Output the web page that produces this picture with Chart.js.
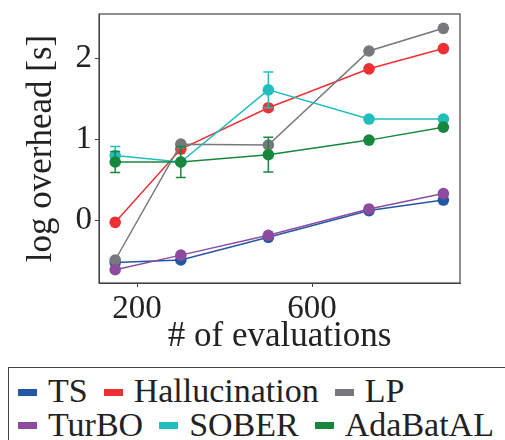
<!DOCTYPE html>
<html>
<head>
<meta charset="utf-8">
<script src="https://cdn.jsdelivr.net/npm/chart.js@4/dist/chart.umd.min.js"></script>
<style>
  body { margin: 0; width: 505px; height: 440px; overflow: hidden; background: #fff; position: relative; }
  #wrap { position: absolute; left: 0; top: 0; width: 505px; height: 360px; }
  #legend {
    position: absolute; left: 8px; top: 367px; width: 540px; height: 100px;
    border: 1.5px solid #444; box-sizing: border-box;
    font-family: 'Liberation Serif', serif; font-size: 34px; color: #222;
    padding: 6px 0 0 9px;
  }
  .row { display: flex; align-items: center; height: 33.5px; line-height: 33.5px; white-space: nowrap; }
  .item { display: flex; align-items: center; margin-right: 16px; }
  .mark { width: 19px; height: 7px; margin-right: 11px; position: relative; top: 1.5px; }
</style>
</head>
<body>
<div id="wrap"><canvas id="chart"></canvas></div>
<div id="legend"></div>
<script>
// data
const evals = [150, 300, 500, 730, 900];
const seriesNames = ['TS', 'Hallucination', 'LP', 'TurBO', 'SOBER', 'AdaBatAL'];
const tsVals = [-0.52, -0.49, -0.21, 0.12, 0.25];
const hallVals = [-0.025, 0.88, 1.39, 1.87, 2.12];
const lpVals = [-0.49, 0.94, 0.93, 2.09, 2.37];
const turboVals = [-0.61, -0.43, -0.185, 0.14, 0.33];
const soberVals = [0.80, 0.72, 1.61, 1.25, 1.25];
const adaVals = [0.72, 0.72, 0.81, 0.99, 1.15];
// half widths of the error bars
const soberErr = [0.11, 0, 0.22, 0, 0];
const adaErr = [0.13, 0.19, 0.215, 0, 0];
const xTicks = [200, 600];
const yTicks = [0, 1, 2];

const colors = ['#2157a6', '#ee3035', '#76787c', '#8d4b9e', '#22bdbd', '#17873e'];
const allVals = [tsVals, hallVals, lpVals, turboVals, soberVals, adaVals];
const allErr = [null, null, null, null, soberErr, adaErr];

const tickFont = { family: "'Liberation Serif', serif", size: 33 };
const titleFont = { family: "'Liberation Serif', serif", size: 35, lineHeight: 1 };

// error bars, drawn just under each dataset's own line and markers
const errorBars = {
  id: 'errorBars',
  beforeDatasetDraw(chart, args) {
    const err = allErr[args.index];
    if (!err) return;
    const ctx = chart.ctx, xs = chart.scales.x, ys = chart.scales.y;
    ctx.save();
    ctx.strokeStyle = colors[args.index];
    ctx.lineWidth = 1.5;
    err.forEach(function(e, i) {
      if (!e) return;
      const v = allVals[args.index][i];
      const px = xs.getPixelForValue(evals[i]);
      const top = ys.getPixelForValue(v + e);
      const bot = ys.getPixelForValue(v - e);
      ctx.beginPath();
      ctx.moveTo(px, top); ctx.lineTo(px, bot);
      ctx.moveTo(px - 5, top); ctx.lineTo(px + 5, top);
      ctx.moveTo(px - 5, bot); ctx.lineTo(px + 5, bot);
      ctx.stroke();
    });
    ctx.restore();
  }
};

// box around the plot area
const frame = {
  id: 'frame',
  afterDraw(chart) {
    const a = chart.chartArea, ctx = chart.ctx;
    ctx.save();
    ctx.strokeStyle = '#444';
    ctx.lineWidth = 1.2;
    ctx.strokeRect(a.left, a.top, a.right - a.left, a.bottom - a.top);
    ctx.restore();
  }
};

const n = seriesNames.length;
const datasets = seriesNames.map(function(name, i) {
  return {
    label: name,
    data: evals.map(function(x, j) { return { x: x, y: allVals[i][j] }; }),
    borderColor: colors[i],
    backgroundColor: colors[i],
    borderWidth: 1.5,
    pointRadius: 5.8,
    pointBorderWidth: 0,
    pointHoverRadius: 5.8,
    order: n - 1 - i   // later series sit on top, as in the figure
  };
});

new Chart(document.getElementById('chart'), {
  type: 'line',
  data: { datasets: datasets },
  plugins: [errorBars, frame],
  options: {
    responsive: true,
    maintainAspectRatio: false,
    animation: false,
    layout: { padding: { left: 0, top: 14, right: 45, bottom: 0 } },
    plugins: { legend: { display: false }, tooltip: { enabled: false } },
    scales: {
      x: {
        type: 'linear',
        min: 113, max: 938,
        afterBuildTicks: function(s) { s.ticks = xTicks.map(function(v) { return { value: v }; }); },
        afterFit: function(s) { s.height = 77; s.paddingLeft = 0; s.paddingRight = 0; },
        grid: { drawOnChartArea: false, tickLength: 4, color: '#444' },
        border: { display: true, color: '#444' },
        ticks: { font: tickFont, color: '#222', padding: 3, maxRotation: 0 },
        title: { display: true, text: '# of evaluations', font: titleFont, color: '#222', padding: { top: 0, bottom: 6 } }
      },
      y: {
        min: -0.774, max: 2.547,
        afterBuildTicks: function(s) { s.ticks = yTicks.map(function(v) { return { value: v }; }); },
        afterFit: function(s) { s.width = 99; s.paddingTop = 0; s.paddingBottom = 0; },
        grid: { drawOnChartArea: false, tickLength: 4, color: '#444' },
        border: { display: true, color: '#444' },
        ticks: { font: tickFont, color: '#222', padding: 3 },
        title: { display: true, text: 'log overhead [s]', font: titleFont, color: '#222', padding: { top: 24, bottom: 0 } }
      }
    }
  }
});

// legend below the figure, two rows of three
const legend = document.getElementById('legend');
[[0, 1, 2], [3, 4, 5]].forEach(function(rowIdx) {
  const row = document.createElement('div');
  row.className = 'row';
  rowIdx.forEach(function(i) {
    const item = document.createElement('div');
    item.className = 'item';
    item.innerHTML = '<span class="mark" style="background:' + colors[i] + '"></span><span>' + seriesNames[i] + '</span>';
    row.appendChild(item);
  });
  legend.appendChild(row);
});
</script>
</body>
</html>
